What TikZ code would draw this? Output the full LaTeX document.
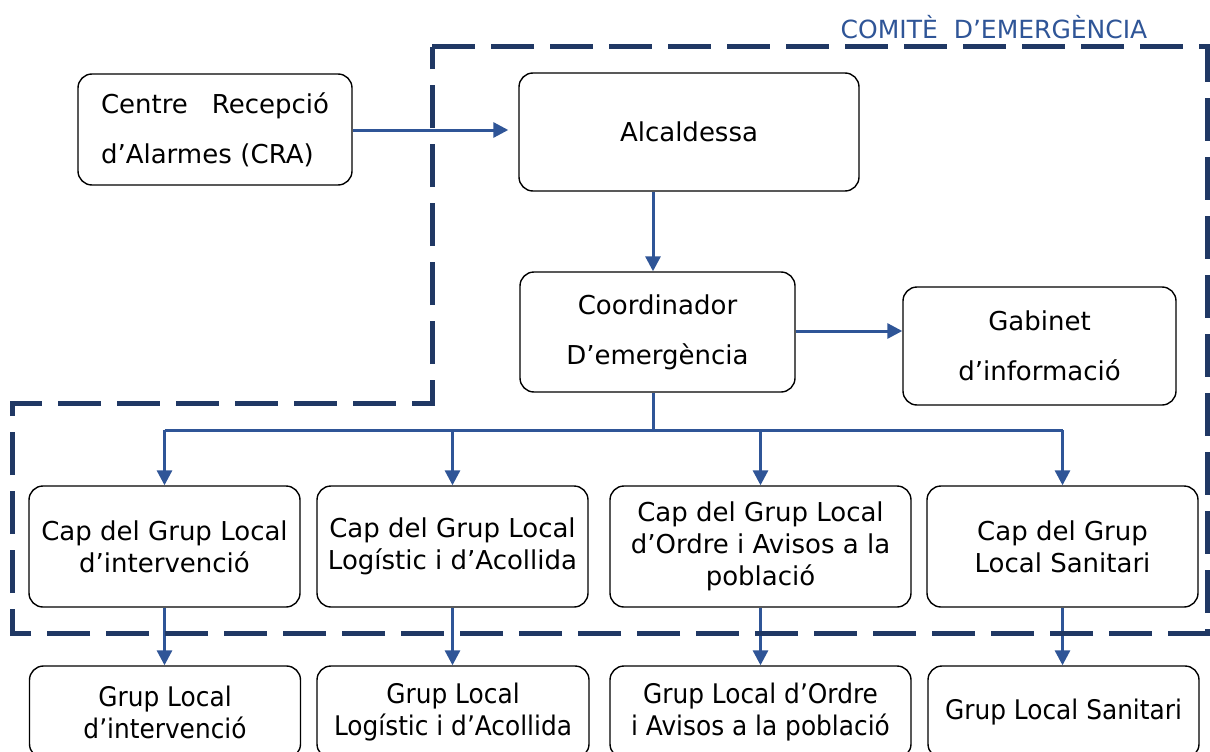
\documentclass[tikz,border=0pt]{standalone}
\usepackage{fontspec}
\setmainfont{DejaVu Sans}
\newfontfamily\narrowfont[FakeStretch=0.92]{DejaVu Sans}
\usetikzlibrary{arrows.meta}
\definecolor{linkblue}{HTML}{2F5597}
\definecolor{framenavy}{HTML}{203864}

\begin{document}
\begin{tikzpicture}[x=1pt, y=-1pt, thick,
  box node/.style={draw, rounded corners=14pt, line width=1.4pt, inner sep=0pt, align=center, font=\fontsize{26}{50}\selectfont},
  chief node/.style={box node, minimum height=121pt, font=\fontsize{26}{32}\selectfont},
  group node/.style={box node, minimum height=92pt, font=\narrowfont\fontsize{27}{32}\selectfont},
  link/.style={draw=linkblue, line width=3pt, -{Triangle[length=15pt, width=15pt]}},
  bus line/.style={draw=linkblue, line width=3pt},
  frame line/.style={draw=framenavy, line width=5pt, dash pattern=on 43pt off 16pt}]
\clip (0,0) rectangle (1210,752);
\node[text=linkblue, font=\fontsize{25}{30}\selectfont](title) at (994,27) {COMITÈ\ \ D’EMERGÈNCIA};
\node[box node, minimum width=274pt, minimum height=111pt, text width=228pt, align=left](cra) at (215,129.5) {Centre\hfill Recepció\\d’Alarmes (CRA)};
\node[box node, minimum width=340pt, minimum height=118pt](alc) at (689,132) {Alcaldessa};
\node[box node, minimum width=275pt, minimum height=120pt](coord) at (657.5,332) {Coordinador\\D’emergència};
\node[box node, minimum width=273pt, minimum height=118pt](gab) at (1039.5,346) {Gabinet\\d’informació};
\foreach \s/\x/\w/\t in {c1/164.5/271/{Cap del Grup Local\\d’intervenció}, c2/452.5/271/{Cap del Grup Local\\Logístic i d’Acollida}, c3/760.5/301/{Cap del Grup Local\\d’Ordre i Avisos a la\\població}, c4/1062.5/271/{Cap del Grup\\Local Sanitari}}{
    \node[chief node, minimum width=\w pt] (\s) at (\x,546.5) {\t};}
\foreach \s/\x/\w/\t in {g1/165/271/{Grup Local\\d’intervenció}, g2/453/272/{Grup Local\\Logístic i d’Acollida}, g3/760.5/301/{Grup Local d’Ordre\\i Avisos a la població}, g4/1063.5/271/{Grup Local Sanitari}}{
    \node[group node, minimum width=\w pt] (\s) at (\x,712) {\t};}
\coordinate (bus) at (0,430);
% connectors
\draw[link, shorten >=10pt] (cra.east |- 0,130) -- (alc.west |- 0,130);
\draw[link] (alc.south -| 653,0) -- (coord.north -| 653,0);
\draw[link] (coord.east |- 0,331) -- (gab.west |- 0,331);
\draw[bus line] (coord.south -| 653,0) -- (bus -| 653,0);
\draw[bus line] (bus -| c1.north) -- (bus -| c4.north);
\foreach \s/\t in {c1/g1, c2/g2, c3/g3, c4/g4}{
    \draw[link] (bus -| \s.north) -- (\s.north);
    \draw[link] (\s.south) -- (\s.south |- \t.north);}
% comite frame
\draw[frame line] (432,47) -- (1207,47) -- (1207,633) -- (12,633) -- (12,403) -- (432,403) -- cycle;
\end{tikzpicture}
\end{document}
